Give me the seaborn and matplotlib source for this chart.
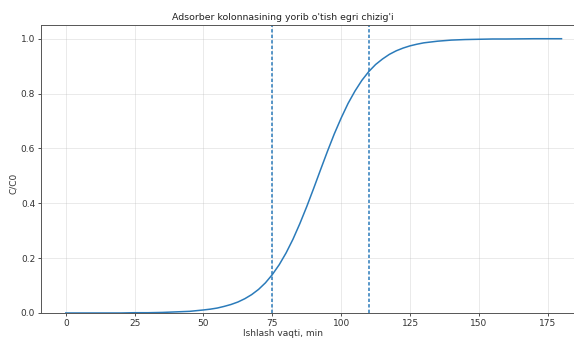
import numpy as np
import pandas as pd
import matplotlib
matplotlib.use("Agg")
import matplotlib.pyplot as plt
import seaborn as sns

# breakthrough curve (time in min, C/C0)
time_min = [0, 5, 10, 15, 20, 25, 30, 35, 40, 45, 50, 52.5, 55, 57.5, 60, 62.5,
            65, 67.5, 70, 72.5, 75, 77.5, 80, 82.5, 85, 87.5, 90, 92.5, 95, 97.5,
            100, 102.5, 105, 107.5, 110, 112.5, 115, 117.5, 120, 122.5, 125, 127.5,
            130, 135, 140, 145, 150, 155, 160, 170, 180]
c_ratio = [0.0, 0.0, 0.0, 0.0, 0.0, 0.001, 0.001, 0.002, 0.004, 0.006, 0.011, 0.014,
           0.018, 0.024, 0.031, 0.040, 0.052, 0.067, 0.086, 0.110, 0.140, 0.176,
           0.219, 0.269, 0.326, 0.388, 0.454, 0.522, 0.589, 0.653, 0.711, 0.764,
           0.809, 0.848, 0.880, 0.906, 0.926, 0.943, 0.956, 0.966, 0.974, 0.980,
           0.985, 0.991, 0.995, 0.997, 0.998, 0.999, 0.999, 1.0, 1.0]
marker_times = [75, 110]

title = "Adsorber kolonnasining yorib o'tish egri chizig'i"
xlabel = "Ishlash vaqti, min"
ylabel = "C/C0"

df = pd.DataFrame({"t": time_min, "c": c_ratio})

plt.rcParams["font.size"] = 6.5
fig = plt.figure(figsize=(5.74, 3.38), dpi=100)
ax = fig.add_axes([0.0714, 0.074, 0.95, 0.852])

line_col = "#2b7bba"
sns.lineplot(data=df, x="t", y="c", ax=ax, color=line_col, linewidth=1.1)
for t in marker_times:
    ax.axvline(t, color=line_col, linestyle=(0, (2.2, 1.4)), linewidth=1.1)

ax.set_xlim(-9, 189)
ax.set_ylim(0, 1.05)
ax.set_xticks([0, 25, 50, 75, 100, 125, 150, 175])
ax.set_yticks([0.0, 0.2, 0.4, 0.6, 0.8, 1.0])
ax.grid(True, alpha=0.3, linewidth=0.6)
ax.tick_params(length=2.2, width=0.6, pad=2, colors="#333333")
for s in ax.spines.values():
    s.set_linewidth(0.7)
    s.set_color("#555555")

# the reference was cropped on the right, so title and labels sit left of the axes centre
fig.text(283 / 574, 1 - 17 / 338, title, ha="center", va="center",
         fontsize=6.75, color="#222222")
ax.set_xlabel(xlabel, color="#333333")
ax.set_ylabel(ylabel, color="#333333")
ax.xaxis.set_label_coords(0.444, -0.057)
ax.yaxis.set_label_coords(-0.043, 0.451)

fig.savefig("out.png", dpi=100)
